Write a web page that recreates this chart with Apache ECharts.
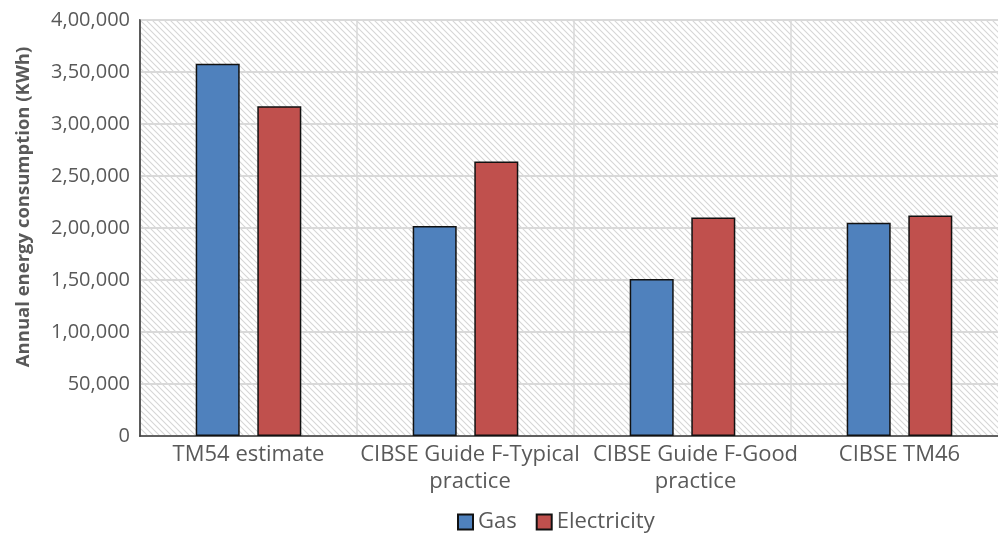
<!DOCTYPE html>
<html><head><meta charset="utf-8">
<script src="https://cdn.jsdelivr.net/npm/echarts@6/dist/echarts.min.js"></script>
<style>html,body{margin:0;padding:0;background:#fff}#c{width:998px;height:536px}</style>
</head><body><div id="c"></div>
<script>
var categories = ['TM54 estimate', 'CIBSE Guide F-Typical\npractice', 'CIBSE Guide F-Good\npractice', 'CIBSE TM46'];
var gasValues = [358000, 202000, 151000, 205000];
var electricityValues = [317000, 264000, 210000, 212000];
var seriesNames = ['Gas', 'Electricity'];

function hatch() {
  var s = 6, c = document.createElement('canvas');
  c.width = s; c.height = s;
  var g = c.getContext('2d');
  g.fillStyle = '#ffffff'; g.fillRect(0, 0, s, s);
  g.strokeStyle = '#d6d6d6'; g.lineWidth = 1.1;
  g.beginPath();
  g.moveTo(-1, -1); g.lineTo(s + 1, s + 1);
  g.moveTo(-1, s - 1); g.lineTo(1, s + 1);
  g.moveTo(s - 1, -1); g.lineTo(s + 1, 1);
  g.stroke();
  return c;
}

var labelShift = [0, 9, 26, 0];
var categoryData = categories.map(function (c, i) {
  return { value: c, textStyle: { padding: [0, 0, 0, labelShift[i]] } };
});

var chart = echarts.init(document.getElementById('c'));
var fmt = function (v) {
  if (v === 0) return '0';
  var s = String(v), last3 = s.slice(-3), rest = s.slice(0, -3);
  rest = rest.replace(/\B(?=(\d{2})+(?!\d))/g, ',');
  return rest + ',' + last3;
};
var txt = '#595959';
chart.setOption({
  animation: false,
  textStyle: { fontFamily: 'Open Sans' },
  grid: {
    left: 140, right: -10, top: 20, bottom: 100,
    outerBoundsMode: 'none', containLabel: false,
    show: true, backgroundColor: { image: hatch(), repeat: 'repeat' },
    borderColor: '#3a3a3a', borderWidth: 1.5
  },
  legend: {
    top: 506, left: 452, itemWidth: 15, itemHeight: 15, itemGap: 19,
    icon: 'rect',
    textStyle: { fontSize: 22, color: txt, fontFamily: 'Open Sans', padding: [0, 0, 0, 0] },
    data: seriesNames
  },
  xAxis: {
    type: 'category', data: categoryData,
    axisLine: { lineStyle: { color: '#3a3a3a', width: 1.5 } },
    axisTick: { show: false },
    splitLine: { show: true, lineStyle: { color: '#d9d9d9', width: 1.5 } },
    axisLabel: { fontSize: 22, color: txt, lineHeight: 27, margin: 5, interval: 0, fontFamily: 'Open Sans' }
  },
  yAxis: {
    type: 'value', min: 0, max: 400000, interval: 50000,
    name: 'Annual energy consumption (KWh)', nameLocation: 'middle', nameGap: 107,
    nameTextStyle: { fontSize: 18.5, fontWeight: 'bold', color: txt, fontFamily: 'Open Sans', padding: [0, 0, 0, 42] },
    axisLine: { show: true, lineStyle: { color: '#3a3a3a', width: 1.5 } },
    axisTick: { show: false },
    splitLine: { lineStyle: { color: '#d9d9d9', width: 2 } },
    axisLabel: { fontSize: 20, color: txt, margin: 10, formatter: fmt, fontFamily: 'Open Sans' }
  },
  series: [
    { name: seriesNames[0], type: 'bar', data: gasValues, barWidth: 44, barGap: '40%',
      itemStyle: { color: '#4F81BD', borderColor: '#111', borderWidth: 1.5 } },
    { name: seriesNames[1], type: 'bar', data: electricityValues, barWidth: 44,
      itemStyle: { color: '#C0504D', borderColor: '#111', borderWidth: 1.5 } }
  ]
});
</script></body></html>
